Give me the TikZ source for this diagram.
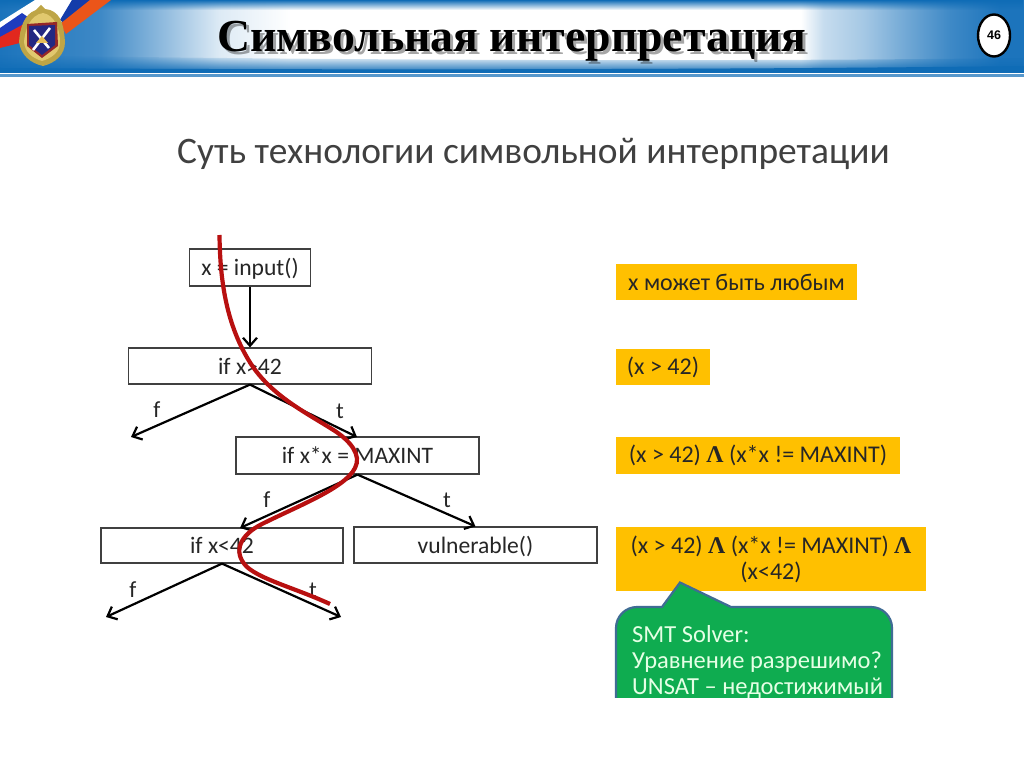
\documentclass[tikz,border=0pt]{standalone}
\usepackage{fontspec}
\setmainfont{Carlito}
\newfontfamily\titlefont{Liberation Serif}
\newfontfamily\numfont{Liberation Sans}
\usetikzlibrary{arrows.meta,fadings,shapes.geometric}
\definecolor{hdrblue}{HTML}{1C74BC}
\definecolor{hdrdark}{HTML}{0F6CB6}
\definecolor{slideyellow}{HTML}{FFC000}
\definecolor{slidegreen}{HTML}{0FAC50}
\definecolor{calloutedge}{HTML}{3F6C94}
\definecolor{pathred}{HTML}{B81010}
\definecolor{headgray}{HTML}{404040}
\definecolor{txt}{HTML}{262626}
\definecolor{ribblue}{HTML}{1E3CBE}
\definecolor{ribblueb}{HTML}{143CAA}
\definecolor{ribred}{HTML}{E1281E}
\definecolor{riborange}{HTML}{EB5519}
\definecolor{embgold}{HTML}{BEA546}
\definecolor{emblight}{HTML}{E1C86E}
\definecolor{embred}{HTML}{962828}
\definecolor{embnavy}{HTML}{232882}
\definecolor{embyel}{HTML}{E6BE5A}
\pgfdeclarehorizontalshading{hdrshade}{100bp}{
  color(0bp)=(hdrblue);
  color(25bp)=(hdrblue);
  color(29.9bp)=(hdrblue!85!white);
  color(33.3bp)=(hdrblue!45!white);
  color(35.7bp)=(hdrblue!15!white);
  color(39.2bp)=(white);
  color(64.1bp)=(white);
  color(65.2bp)=(hdrblue!25!white);
  color(67.2bp)=(hdrblue!40!white);
  color(69bp)=(hdrblue!60!white);
  color(71.4bp)=(hdrblue!85!white);
  color(73.8bp)=(hdrblue);
  color(100bp)=(hdrblue)}
\tikzset{
  flowbox/.style={draw=black!75,line width=1.2pt,fill=white,inner sep=0pt,text height=18pt,text depth=2pt,font=\fontsize{23.6}{28}\selectfont,text=txt},
  notebox/.style={fill=slideyellow,inner sep=0pt,font=\fontsize{24}{26}\selectfont,text=txt,align=center},
  flowarrow/.style={line width=2.2pt,black,-{Straight Barb[length=8pt,width=14pt,line width=2.2pt]}},
  branch/.style={font=\fontsize{23}{26}\selectfont,text=txt,inner sep=0pt},
}
\newcommand{\wedgesym}{{\titlefont\bfseries Λ}}
\begin{document}
\begin{tikzpicture}[x=1pt,y=-1pt]
\useasboundingbox (0,0) rectangle (1024,767);
\fill[white] (0,0) rectangle (1024,767);
% header
\shade[shading=hdrshade] (0,0) rectangle (1024,73);
\fill[hdrdark,path fading=south] (0,0) rectangle (1024,10);
\fill[hdrdark,path fading=north] (0,73) -- (0,55) .. controls (300,60) and (700,62) .. (1024,58) -- (1024,73) -- cycle;
\fill[hdrdark] (0,68) .. controls (300,70) and (700,70) .. (1024,66) -- (1024,73) -- (0,73) -- cycle;
\fill[hdrdark!70!white] (0,74) rectangle (1024,77);
% ribbons
\fill[white] (0,22) -- (35,0) -- (60,0) -- (30,24) -- (0,45) -- cycle;
\fill[white] (50,0) -- (72,0) -- (62,22) -- (45,22) -- cycle;
\fill[ribblue] (0,28) -- (22,13) -- (38,24) -- (22,40) -- (0,37) -- cycle;
\fill[ribblueb] (72,0) -- (90,0) -- (66,25) -- (60,20) -- cycle;
\fill[ribred] (0,37) -- (24,24) -- (24,42) -- (0,48) -- cycle;
\fill[riborange] (90,0) -- (111,0) -- (66,34) -- (60,24) -- cycle;
% emblem
\fill[embgold] (41,5) -- (45,9) -- (50,10) .. controls (62,14) and (64,28) .. (65,42) .. controls (65,55) and (55,63) .. (43,66) .. controls (30,63) and (21,55) .. (19,42) .. controls (20,28) and (24,14) .. (36,10) -- cycle;
\fill[emblight] (43,13) .. controls (55,15) and (60,30) .. (60,42) .. controls (60,52) and (52,58) .. (42,61) .. controls (32,58) and (25,52) .. (24,42) .. controls (25,30) and (30,15) .. (43,13) -- cycle;
\fill[embred] (27,24) -- (57,22) -- (58,46) -- (42,58) -- (27,46) -- cycle;
\fill[embnavy] (29,26) -- (55,25) -- (55,45) -- (42,55) -- (29,45) -- cycle;
\draw[white,line width=2.6pt] (33,50) -- (50,28);
\draw[white,line width=2.6pt] (34,30) -- (49,48);
\fill[embyel] (36,43) -- (48,43) -- (42,36) -- cycle;
% title
\node (titleshadow) [opacity=.35,text=black,font=\titlefont\bfseries\fontsize{45.8}{54}\selectfont,inner sep=0pt] at (515,44) {Символьная интерпретация};
\node (title) [text=black,font=\titlefont\bfseries\fontsize{45.8}{54}\selectfont,inner sep=0pt] at (512,41) {Символьная интерпретация};
% page number
\node (pagenum) [draw=black,line width=2.4pt,fill=white,ellipse,inner sep=0pt,minimum width=32pt,minimum height=42pt,font=\numfont\bfseries\fontsize{12.5}{14}\selectfont] at (994,35.5) {46};
% heading
\node (heading) [text=headgray,font=\fontsize{37.4}{44}\selectfont,inner sep=0pt,anchor=west] at (177,154) {Суть технологии символьной интерпретации};
% flow boxes
\node (input) [flowbox,minimum width=121pt,minimum height=37pt] at (250,267.5) {x = input()};
\node (ifa) [flowbox,minimum width=243pt,minimum height=36pt] at (250,366) {if x>42};
\node (ifb) [flowbox,minimum width=243pt,minimum height=37pt] at (357.5,455.5) {if x*x = MAXINT};
\node (ifc) [flowbox,minimum width=242pt,minimum height=35pt] at (222,545.5) {if x<42};
\node (vuln) [flowbox,minimum width=243pt,minimum height=36pt] at (475.5,545) {vulnerable()};
% free ends
\coordinate (afe) at (131,437);
\coordinate (ate) at (357,437);
\coordinate (bfe) at (240,528);
\coordinate (cfe) at (106,617);
\coordinate (cte) at (341,617);
% connectors
\draw[flowarrow] (input.south) -- (ifa.north);
\draw[flowarrow] (ifa.south) -- (afe);
\draw[flowarrow] (ifa.south) -- (ate);
\draw[flowarrow] (ifb.south) -- (bfe);
\draw[flowarrow] (ifb.south) -- (vuln.north);
\draw[flowarrow] (ifc.south) -- (cfe);
\draw[flowarrow] (ifc.south) -- (cte);
% branch labels
\node (lf1) [branch] at (157,410) {f};
\node (lt1) [branch] at (340,411) {t};
\node (lf2) [branch] at (267,500) {f};
\node (lt2) [branch] at (447,500) {t};
\node (lf3) [branch] at (133,590) {f};
\node (lt3) [branch] at (313,590) {t};
% red path
\draw[pathred,line width=4.2pt,line cap=butt] (219.5,235) .. controls (220,280) and (226,325) .. (251,364) .. controls (272,396) and (305,412) .. (335,431) .. controls (350,441) and (362,455) .. (355,468) .. controls (345,488) and (300,505) .. (262,524) .. controls (240,535) and (232,552) .. (247,567) .. controls (262,580) and (295,588) .. (330,604);
% yellow notes
\node (n1) [notebox,minimum width=241pt,minimum height=36pt] at (736.5,282) {x может быть любым};
\node (n2) [notebox,minimum width=94pt,minimum height=36pt] at (663,367) {(x > 42)};
\node (n3) [notebox,minimum width=284pt,minimum height=37pt] at (758,455.5) {(x > 42) \wedgesym{} (x*x != MAXINT)};
\node (n4) [notebox,minimum width=310pt,minimum height=64pt] at (771,559) {(x > 42) \wedgesym{} (x*x != MAXINT) \wedgesym{}\\(x<42)};
% callout
\begin{scope}
\clip (600,570) rectangle (910,697.5);
\draw[calloutedge,line width=2.2pt,fill=slidegreen] (616,720) -- (616,628) arc[start angle=180,end angle=270,radius=21] -- (662,607) -- (680,582.5) -- (731,607) -- (871,607) arc[start angle=270,end angle=360,radius=21] -- (892,720) -- cycle;
\node (smt) [anchor=north west,inner sep=0pt,text=green!10!white,align=left,font=\fontsize{24.5}{26.2}\selectfont] at (632,625) {SMT Solver:\\Уравнение разрешимо?\\UNSAT – недостижимый};
\end{scope}
\end{tikzpicture}
\end{document}
